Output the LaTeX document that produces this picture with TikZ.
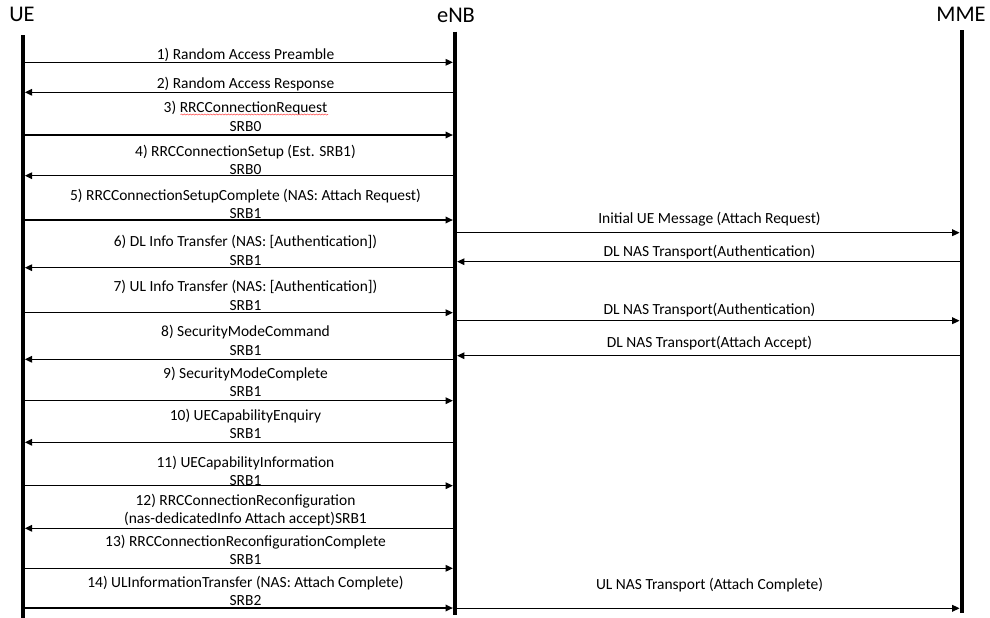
\documentclass[tikz,border=0pt]{standalone}
\usepackage{fontspec}
\setmainfont{Carlito}
\usetikzlibrary{arrows.meta,decorations.pathmorphing}

\tikzset{
  head/.style={font=\fontsize{16.8}{20}\selectfont, anchor=base, inner sep=0pt},
  lbl/.style={font=\fontsize{11.6}{14}\selectfont, anchor=base, inner sep=0pt},
  lifeline/.style={line width=3pt},
  msg/.style={line width=0.95pt, -{Triangle[length=5.5pt,width=5pt]}, shorten >=1.6pt, shorten <=1.6pt},
  spell/.style={red!70, line width=0.4pt, decorate,
    decoration={snake, amplitude=0.4pt, segment length=2.2pt}}
}

\begin{document}
\begin{tikzpicture}[x=0.75pt,y=-0.75pt]
\useasboundingbox (0,0) rectangle (990,618);

% entity headers
\node[head] (ueH)  at (22,21.7) {UE};
\node[head] (enbH) at (456,22.3) {eNB};
\node[head] (mmeH) at (961,21) {MME};

% lifelines
\coordinate (ueTop)  at (22.7,35);
\coordinate (ueBot)  at (22.7,618);
\coordinate (enbTop) at (455,31.7);
\coordinate (enbBot) at (455,615);
\coordinate (mmeTop) at (961.7,30);
\coordinate (mmeBot) at (961.7,613);
\draw[lifeline] (ueTop) -- (ueBot);
\draw[lifeline] (enbTop) -- (enbBot);
\draw[lifeline] (mmeTop) -- (mmeBot);

% UE <-> eNB messages
\node[lbl] (l1) at (245.5,59.5) {1) Random Access Preamble};
\draw[msg] (ueTop |- 0,62.3) -- (enbTop |- 0,62.3);

\node[lbl] (l2) at (245.5,88.3) {2) Random Access Response};
\draw[msg] (enbTop |- 0,92.3) -- (ueTop |- 0,92.3);

\node[lbl] (l3) at (245.5,112.5) {3) RRCConnectionRequest};
\node[lbl] (s3) at (245.5,131) {SRB0};
\draw[msg] (ueTop |- 0,135) -- (enbTop |- 0,135);
\draw[spell] (180.5,114.5) -- (328,114.5);

\node[lbl] (l4) at (245.5,156.7) {4) RRCConnectionSetup (Est. SRB1)};
\node[lbl] (s4) at (245.5,174.3) {SRB0};
\draw[msg] (enbTop |- 0,175.7) -- (ueTop |- 0,175.7);

\node[lbl] (l5) at (245.5,200) {5) RRCConnectionSetupComplete (NAS: Attach Request)};
\node[lbl] (s5) at (245.5,218.3) {SRB1};
\draw[msg] (ueTop |- 0,220) -- (enbTop |- 0,220);

\node[lbl] (l6) at (245.5,246.7) {6) DL Info Transfer (NAS: [Authentication])};
\node[lbl] (s6) at (245.5,265) {SRB1};
\draw[msg] (enbTop |- 0,267.7) -- (ueTop |- 0,267.7);

\node[lbl] (l7) at (245.5,291.7) {7) UL Info Transfer (NAS: [Authentication])};
\node[lbl] (s7) at (245.5,310) {SRB1};
\draw[msg] (ueTop |- 0,312.7) -- (enbTop |- 0,312.7);

\node[lbl] (l8) at (245.5,336.7) {8) SecurityModeCommand};
\node[lbl] (s8) at (245.5,355.3) {SRB1};
\draw[msg] (enbTop |- 0,359.3) -- (ueTop |- 0,359.3);

\node[lbl] (l9) at (245.5,378.3) {9) SecurityModeComplete};
\node[lbl] (s9) at (245.5,396.7) {SRB1};
\draw[msg] (ueTop |- 0,400.7) -- (enbTop |- 0,400.7);

\node[lbl] (l10) at (245.5,420) {10) UECapabilityEnquiry};
\node[lbl] (s10) at (245.5,438.7) {SRB1};
\draw[msg] (enbTop |- 0,442.3) -- (ueTop |- 0,442.3);

\node[lbl] (l11) at (245.5,467.3) {11) UECapabilityInformation};
\node[lbl] (s11) at (245.5,485) {SRB1};
\draw[msg] (ueTop |- 0,485.7) -- (enbTop |- 0,485.7);

\node[lbl] (l12) at (245.5,505) {12) RRCConnectionReconfiguration};
\node[lbl] (s12) at (245.5,523.3) {(nas-dedicatedInfo Attach accept)SRB1};
\draw[msg] (enbTop |- 0,528.3) -- (ueTop |- 0,528.3);

\node[lbl] (l13) at (245.5,546.7) {13) RRCConnectionReconfigurationComplete};
\node[lbl] (s13) at (245.5,564.3) {SRB1};
\draw[msg] (ueTop |- 0,568.3) -- (enbTop |- 0,568.3);

\node[lbl] (l14) at (245.5,587.7) {14) ULInformationTransfer (NAS: Attach Complete)};
\node[lbl] (s14) at (245.5,605) {SRB2};
\draw[msg] (ueTop |- 0,608) -- (enbTop |- 0,608);

% eNB <-> MME messages
\node[lbl] (r1) at (709.5,223.3) {Initial UE Message (Attach Request)};
\draw[msg] (enbTop |- 0,232.7) -- (mmeTop |- 0,232.7);

\node[lbl] (r2) at (709.5,256.7) {DL NAS Transport(Authentication)};
\draw[msg] (mmeTop |- 0,261.7) -- (enbTop |- 0,261.7);

\node[lbl] (r3) at (709.5,314.3) {DL NAS Transport(Authentication)};
\draw[msg] (enbTop |- 0,320.7) -- (mmeTop |- 0,320.7);

\node[lbl] (r4) at (709.5,347.7) {DL NAS Transport(Attach Accept)};
\draw[msg] (mmeTop |- 0,355.7) -- (enbTop |- 0,355.7);

\node[lbl] (r5) at (709.5,589.3) {UL NAS Transport (Attach Complete)};
\draw[msg] (enbTop |- 0,608.3) -- (mmeTop |- 0,608.3);
\end{tikzpicture}
\end{document}
